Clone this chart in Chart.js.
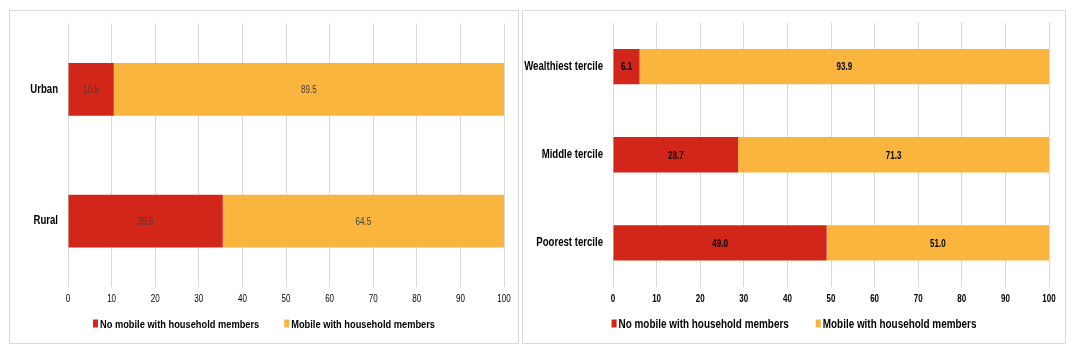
<!DOCTYPE html>
<html>
<head>
<meta charset="utf-8">
<script src="https://cdn.jsdelivr.net/npm/chart.js@4/dist/chart.umd.min.js"></script>
<style>
	body { margin: 0; background: #fff; width: 1077px; height: 353px; position: relative; overflow: hidden; }
	.panel { position: absolute; top: 10px; height: 332px; border: 1px solid #d9d9d9; }
	#panelLeft { left: 9px; width: 508px; }
	#panelRight { left: 522px; width: 542px; }
	canvas { display: block; }
</style>
</head>
<body>
<div class="panel" id="panelLeft"><canvas id="areaChart"></canvas></div>
<div class="panel" id="panelRight"><canvas id="wealthChart"></canvas></div>
<script>
// values (percent of households)
const areaLabels = ['Urban', 'Rural'];
const areaNoMobile = [10.5, 35.5];
const areaMobile = [89.5, 64.5];

const wealthLabels = ['Wealthiest tercile', 'Middle tercile', 'Poorest tercile'];
const wealthNoMobile = [6.1, 28.7, 49.0];
const wealthMobile = [93.9, 71.3, 51.0];

const seriesNames = ['No mobile with household members', 'Mobile with household members'];
const RED = '#D12619';
const ORANGE = '#F9B53E';
const FONT = "'Liberation Sans', Arial, sans-serif";
const NARROW = 0.8;	// no Arial Narrow here, so squeeze the text instead

// make every text drawn on this context narrow (measure + draw)
function condense(ctx) {
	const fill = ctx.fillText.bind(ctx);
	const measure = ctx.measureText.bind(ctx);
	ctx.fillText = function (text, x, y) {
		ctx.save();
		ctx.translate(x, y);
		ctx.scale(NARROW, 1);
		fill(text, 0, 0);
		ctx.restore();
	};
	ctx.measureText = function (text) {
		const m = measure(text);
		return {
			width: m.width * NARROW,
			actualBoundingBoxAscent: m.actualBoundingBoxAscent,
			actualBoundingBoxDescent: m.actualBoundingBoxDescent,
			actualBoundingBoxLeft: m.actualBoundingBoxLeft * NARROW,
			actualBoundingBoxRight: m.actualBoundingBoxRight * NARROW
		};
	};
	return ctx;
}

// draws the value in the middle of each bar segment
const barValues = {
	id: 'barValues',
	afterDatasetsDraw(chart, args, opts) {
		const ctx = chart.ctx;
		ctx.save();
		ctx.font = (opts.bold ? 'bold ' : '') + '10px ' + FONT;
		ctx.fillStyle = opts.color;
		ctx.textAlign = 'center';
		ctx.textBaseline = 'middle';
		chart.data.datasets.forEach((ds, i) => {
			chart.getDatasetMeta(i).data.forEach((bar, j) => {
				const p = bar.getProps(['x', 'y', 'base'], true);
				ctx.fillText(ds.data[j].toFixed(1), (p.x + p.base) / 2, p.y + 1);
			});
		});
		ctx.restore();
	}
};

// legend row under the axis, centred on the panel (wide gap between items)
const bottomLegend = {
	id: 'bottomLegend',
	afterDraw(chart, args, opts) {
		const ctx = chart.ctx;
		const ds = chart.data.datasets;
		ctx.save();
		ctx.font = 'bold ' + opts.size + 'px ' + FONT;
		ctx.textBaseline = 'middle';
		ctx.textAlign = 'left';
		const widths = ds.map(d => ctx.measureText(d.label).width);
		const item = w => 5 + 2 + w;
		const total = widths.reduce((s, w) => s + item(w), 0) + opts.gap * (ds.length - 1);
		let x = chart.width / 2 - total / 2;
		ds.forEach((d, i) => {
			ctx.fillStyle = d.backgroundColor;
			ctx.fillRect(x, opts.y - 4, 5, 8);
			ctx.fillStyle = '#000';
			ctx.fillText(d.label, x + 7, opts.y + 1);
			x += item(widths[i]) + opts.gap;
		});
		ctx.restore();
	}
};

function makeChart(id, w, labels, noMobile, mobile, cfg) {
	const canvas = document.getElementById(id);
	canvas.width = w;
	canvas.height = 332;
	canvas.style.width = w + 'px';
	canvas.style.height = '332px';
	const ctx = condense(canvas.getContext('2d'));
	return new Chart(ctx, {
		type: 'bar',
		data: {
			labels: labels,
			datasets: [
				{ label: seriesNames[0], data: noMobile, backgroundColor: RED },
				{ label: seriesNames[1], data: mobile, backgroundColor: ORANGE }
			]
		},
		options: {
			indexAxis: 'y',
			responsive: false,
			animation: false,
			events: [],
			barPercentage: 0.8,
			categoryPercentage: 0.5,
			layout: { padding: { top: cfg.padTop, right: cfg.padRight, bottom: 36, left: 0 } },
			scales: {
				x: {
					stacked: true,
					min: 0,
					max: 100,
					ticks: { stepSize: 10, padding: 6, color: '#000', font: { family: FONT, size: 10, weight: cfg.tickWeight } },
					grid: { color: '#d9d9d9', drawTicks: false },
					border: { display: false },
					afterFit(scale) { scale.height = 20; }
				},
				y: {
					stacked: true,
					ticks: { padding: 10, color: '#000', font: { family: FONT, size: 12, weight: 'bold' } },
					grid: { display: false, drawTicks: false },
					border: { display: false },
					afterFit(scale) {
						scale.width = cfg.axisWidth;
						scale.paddingTop = 0;
						scale.paddingBottom = 0;
					}
				}
			},
			plugins: {
				legend: { display: false },
				tooltip: { enabled: false },
				barValues: { color: cfg.valueColor, bold: cfg.valueBold },
				bottomLegend: { size: cfg.legendSize, gap: cfg.legendGap, y: 312.5 }
			}
		},
		plugins: [barValues, bottomLegend]
	});
}

makeChart('areaChart', 508, areaLabels, areaNoMobile, areaMobile,
	{ padTop: 12.5, padRight: 14, axisWidth: 58, tickWeight: 'normal', valueColor: '#404040', valueBold: false,
	  legendSize: 11.6, legendGap: 25 });
makeChart('wealthChart', 542, wealthLabels, wealthNoMobile, wealthMobile,
	{ padTop: 11.5, padRight: 16, axisWidth: 90, tickWeight: 'bold', valueColor: '#000', valueBold: true,
	  legendSize: 12.4, legendGap: 27 });
</script>
</body>
</html>
